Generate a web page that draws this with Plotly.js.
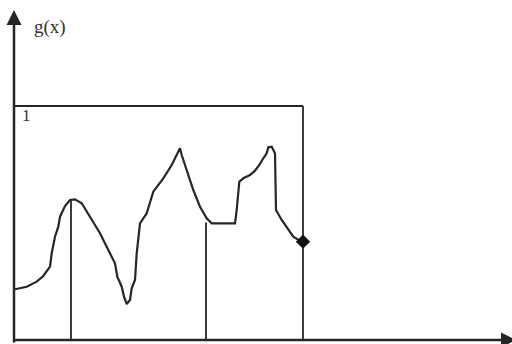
<!DOCTYPE html>
<html>
<head>
<meta charset="utf-8">
<script src="https://cdn.plot.ly/plotly-3.0.1.min.js"></script>
<style>html,body{margin:0;padding:0;background:#fff;}#chart{width:512px;height:344px;}</style>
</head>
<body>
<div id="chart"></div>
<script>
// curve g(x), in figure units (box spans x 0..289, y 0..234)
const curveX = [1, 12.7, 22.7, 29.3, 36, 37.7, 41, 44.3, 46, 51, 56, 61, 67.7, 76, 86, 94.3, 101, 103.3, 107.7, 110, 112.7, 116, 117.7, 121, 122.7, 126, 132.7, 139.3, 149.3, 157.7, 162.7, 166, 167.7, 172.7, 179.3, 186, 192.7, 197.7, 221, 222.7, 225.3, 229.3, 236, 241, 245.3, 249.3, 252.7, 254.3, 257.7, 261, 262, 267.7, 272.7, 279.3, 287.7];
const curveY = [50.7, 53.3, 58.3, 64, 73.3, 86.7, 103.3, 113.3, 123.3, 134, 140, 140.7, 136.7, 123.3, 106.7, 90, 76.7, 63.3, 53.3, 43.3, 36, 40, 51.7, 60, 86.7, 116.7, 126.7, 148.3, 161.7, 175, 185, 191.7, 185, 170, 150, 133.3, 121.7, 116.7, 116.7, 130, 158.3, 161.7, 165, 169.3, 175, 181.7, 186.7, 192.7, 193.3, 186.7, 130, 120, 113.3, 103.3, 98.3];
// end point marker
const endX = [289];
const endY = [98.3];
// vertical guide lines (x position, top height)
const guideX = [57, 192, 289];
const guideTop = [140, 117.5, 234];
// box top level
const boxTop = 234;
const boxRight = 289;
// labels
const yLabel = "g(x)";
const boxLabel = "1";

const ink = '#262626';
const traces = [];
// box top edge
traces.push({x: [0, boxRight], y: [boxTop, boxTop], mode: 'lines', line: {color: ink, width: 1.8}, hoverinfo: 'skip'});
// vertical guides
guideX.forEach((gx, i) => {
  traces.push({x: [gx, gx], y: [0, guideTop[i]], mode: 'lines', line: {color: ink, width: 1.8}, hoverinfo: 'skip'});
});
// curve
traces.push({x: curveX, y: curveY, mode: 'lines', line: {color: ink, width: 2.2}, hoverinfo: 'skip'});
// end marker
traces.push({x: endX, y: endY, mode: 'markers', marker: {symbol: 'diamond', size: 11, color: '#111'}, hoverinfo: 'skip'});

const layout = {
  width: 512, height: 344,
  margin: {l: 0, r: 0, t: 0, b: 0},
  paper_bgcolor: '#fff', plot_bgcolor: '#fff',
  showlegend: false,
  xaxis: {range: [-14, 498], visible: false, fixedrange: true},
  yaxis: {range: [-4, 340], visible: false, fixedrange: true},
  annotations: [
    // y axis with arrow
    {x: 0, y: 330, ax: 0, ay: -4, xref: 'x', yref: 'y', axref: 'x', ayref: 'y', showarrow: true, arrowhead: 2, arrowsize: 1.2, arrowwidth: 2.5, arrowcolor: ink, text: ''},
    // x axis with arrow
    {x: 502, y: 0, ax: -2, ay: 0, xref: 'x', yref: 'y', axref: 'x', ayref: 'y', showarrow: true, arrowhead: 2, arrowsize: 1.2, arrowwidth: 2.5, arrowcolor: ink, text: ''},
    {x: 18, y: 313, xref: 'x', yref: 'y', xanchor: 'left', yanchor: 'middle', showarrow: false, text: yLabel, font: {family: 'Liberation Serif', size: 19, color: '#333'}},
    {x: 12.5, y: 225, xref: 'x', yref: 'y', xanchor: 'center', yanchor: 'middle', showarrow: false, text: boxLabel, font: {family: 'Liberation Serif', size: 17, color: '#333'}}
  ]
};

Plotly.newPlot('chart', traces, layout, {staticPlot: true, displayModeBar: false});
</script>
</body>
</html>
